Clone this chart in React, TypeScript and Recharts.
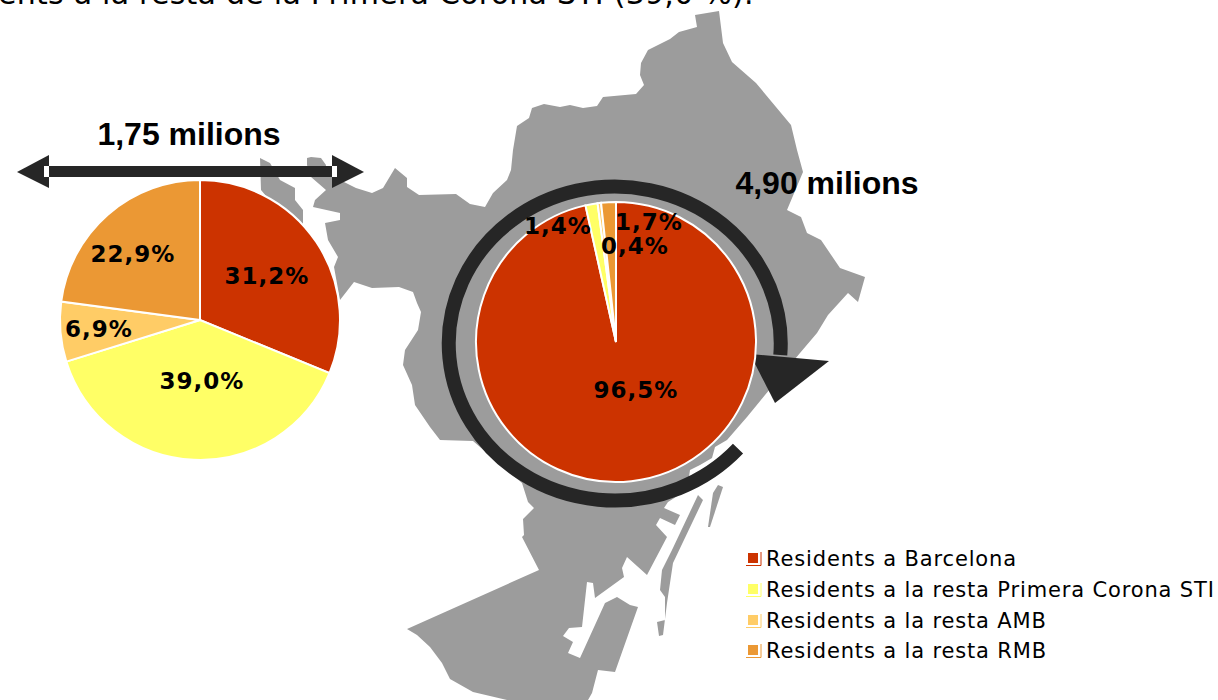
// Residents per corona: dos pastissos sobre el mapa de Barcelona
import React from "react";
import { PieChart, Pie, Legend } from "recharts";

const CATEGORIES = [
  "Residents a Barcelona",
  "Residents a la resta Primera Corona STI",
  "Residents a la resta AMB",
  "Residents a la resta RMB",
];
const COLORS = ["#CC3300", "#FFFF66", "#FFCC66", "#EB9834"];

const SMALL_VALUES = [31.2, 39.0, 6.9, 22.9];
const BIG_VALUES = [96.5, 1.4, 0.4, 1.7];
const SMALL_LABELS = ["31,2%", "39,0%", "6,9%", "22,9%"];
const BIG_LABELS = ["96,5%", "1,4%", "0,4%", "1,7%"];

// Offset de cada etiqueta respecte al centre del pastís
const SMALL_LABEL_OFFSET = [[67, -44], [2, 61], [-101, 9], [-67, -66]];
const BIG_LABEL_OFFSET = [[20, 48], [-58, -116], [19, -96], [33, -120]];

const COLOR_MAP = "#9C9C9C";
const COLOR_DARK = "#262626";
const LABEL_FONT = "'DejaVu Sans', Verdana, sans-serif";
const TITLE_FONT = "'Liberation Sans', Arial, sans-serif";

const toRows = (values: number[]) =>
  values.map((value, i) => ({ name: CATEGORIES[i], value, fill: COLORS[i] }));

// Silueta del mapa de fons (decoració, no dades)
const MAP_MAIN =
  "307,158 311,157 321,158 326,165 325,172 340,175 344,182 356,188 372,193 383,188 395,168 407,178 407,187 419,195 456,194 470,204 485,207 493,193 507,180 511,170 513,150 517,126 529,118 532,108 544,104 560,107 570,105 583,108 597,106 603,97 636,94 644,85 640,75 641,63 648,50 670,39 679,32 697,27 695,15 719,11 723,43 732,62 756,83 791,125 797,150 803,172 787,210 801,217 807,233 821,240 840,268 865,277 858,302 848,293 828,315 817,333 800,353 765,395 747,417 727,440 715,447 712,458 700,465 690,470 687,490 668,502 664,508 680,515 675,525 660,518 656,525 667,537 647,575 627,557 622,568 624,577 595,598 593,583 587,582 582,627 569,628 563,636 573,642 568,653 580,658 605,603 617,597 630,605 638,607 615,672 598,670 592,693 588,700 507,700 473,692 450,679 442,663 430,647 417,635 407,629 539,570 522,537 524,535 523,519 534,508 528,502 522,483 473,441 440,440 430,427 415,405 412,385 403,365 405,350 418,330 421,312 417,303 413,292 399,287 372,288 354,282 340,300 334,267 338,257 328,240 325,223 340,220 340,213 313,207 315,200 326,190 311,177 307,165";
const MAP_WEST = "260,158 270,163 280,180 295,188 295,200 303,210 303,240 261,190";
const MAP_STRIP =
  "698,495 703,500 673,563 667,603 663,635 659,636 657,622 665,620 665,597 660,590 662,570 672,550";
const MAP_ISLAND = "713,493 718,485 723,487 710,527 708,527";

function Backdrop() {
  return (
    <g>
      <polygon points={MAP_MAIN} fill={COLOR_MAP} />
      <polygon points={MAP_WEST} fill={COLOR_MAP} />
      <polygon points={MAP_STRIP} fill={COLOR_MAP} />
      <polygon points={MAP_ISLAND} fill={COLOR_MAP} />
      {/* fletxa circular */}
      <path
        d="M 738 448.7 A 166 157 0 1 1 780.3 355"
        fill="none"
        stroke={COLOR_DARK}
        strokeWidth={14}
      />
      <polygon points="750,354 829,361 775,403" fill={COLOR_DARK} />
      {/* fletxa doble */}
      <rect x={49} y={166} width={283} height={11} fill={COLOR_DARK} />
      <polygon points="17,172 49,155 49,188" fill={COLOR_DARK} />
      <polygon points="364,172 332,155 332,188" fill={COLOR_DARK} />
      <rect x={44} y={166} width={5} height={11} fill="#fff" />
      <rect x={332} y={166} width={5} height={11} fill="#fff" />
    </g>
  );
}

function makeLabel(labels: string[], offsets: number[][]) {
  return (props: any) => {
    const [dx, dy] = offsets[props.index];
    return (
      <text
        x={props.cx + dx}
        y={props.cy + dy}
        textAnchor="middle"
        dominantBaseline="central"
        fontFamily={LABEL_FONT}
        fontWeight="bold"
        fontSize={23}
        letterSpacing={1}
        fill="#000"
      >
        {labels[props.index]}
      </text>
    );
  };
}

function LegendList() {
  return (
    <div>
      {CATEGORIES.map((name, i) => (
        <div
          key={name}
          style={{ display: "flex", alignItems: "center", height: 30.7, whiteSpace: "nowrap" }}
        >
          <svg width={16} height={16} style={{ marginRight: 4 }}>
            <rect x={2} y={2} width={10} height={10} fill={COLORS[i]} />
            <polyline points="15,1 15,14.5 0,14.5" fill="none" stroke={COLORS[i]} strokeWidth={1} />
          </svg>
          <span
            style={{
              fontFamily: LABEL_FONT,
              fontSize: 21,
              letterSpacing: 0.85,
              color: "#000",
            }}
          >
            {name}
          </span>
        </div>
      ))}
    </div>
  );
}

export default function App() {
  return (
    <div style={{ position: "absolute", left: 0, top: 0, width: 1218, height: 700, background: "#fff" }}>
      <PieChart width={1218} height={700} margin={{ top: 0, right: 0, bottom: 0, left: 0 }}>
        <Backdrop />
        <Pie
          data={toRows(SMALL_VALUES)}
          dataKey="value"
          nameKey="name"
          cx={200}
          cy={320}
          outerRadius={140}
          startAngle={90}
          endAngle={-270}
          stroke="#fff"
          strokeWidth={2}
          label={makeLabel(SMALL_LABELS, SMALL_LABEL_OFFSET)}
          labelLine={false}
          isAnimationActive={false}
        />
        <Pie
          data={toRows(BIG_VALUES)}
          dataKey="value"
          nameKey="name"
          cx={616}
          cy={342}
          outerRadius={140}
          startAngle={90}
          endAngle={-270}
          stroke="#fff"
          strokeWidth={2}
          label={makeLabel(BIG_LABELS, BIG_LABEL_OFFSET)}
          labelLine={false}
          isAnimationActive={false}
        />
        <text x={189} y={145} textAnchor="middle" fontFamily={TITLE_FONT} fontWeight="bold" fontSize={32} fill="#000">
          1,75 milions
        </text>
        <text x={827} y={194} textAnchor="middle" fontFamily={TITLE_FONT} fontWeight="bold" fontSize={32} fill="#000">
          4,90 milions
        </text>
        <text x={-2} y={4} fontFamily={LABEL_FONT} fontSize={30} letterSpacing={0.25} fill="#000">
          ents a la resta de la Primera Corona STI (39,0 %).
        </text>
        <Legend
          content={() => <LegendList />}
          wrapperStyle={{ left: 746, top: 544, width: 472, height: 124, bottom: "auto", right: "auto" }}
        />
      </PieChart>
    </div>
  );
}
